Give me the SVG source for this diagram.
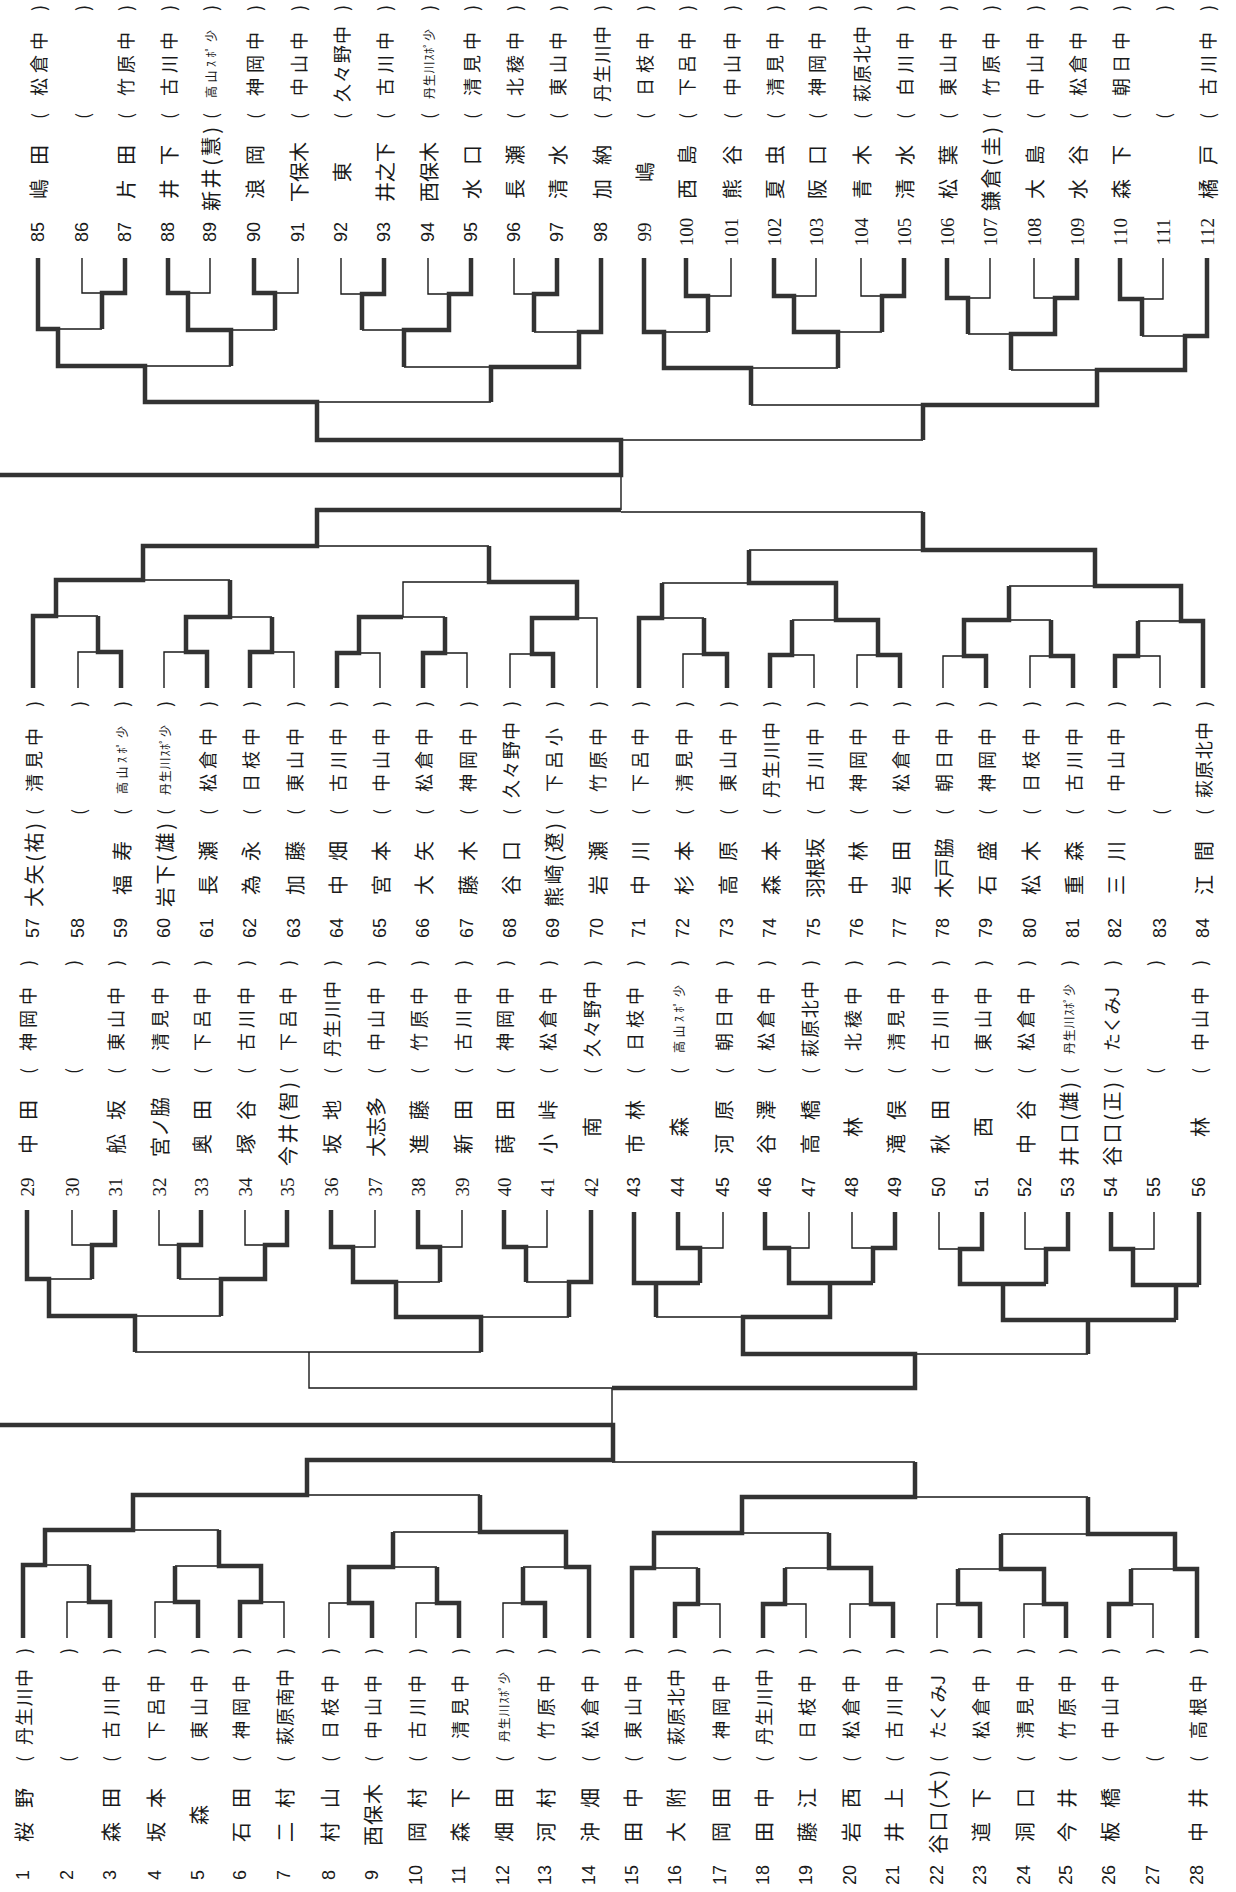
<svg xmlns="http://www.w3.org/2000/svg" width="1236" height="1892" viewBox="0 0 1236 1892">
<style>
text{dominant-baseline:central;text-anchor:middle;fill:#1a1a1a}
.n{font-family:"Liberation Sans",Arial,sans-serif;font-size:18px}
.m{font-family:"Liberation Serif","Times New Roman",serif;font-size:19px}
.j{font-family:"Noto Sans CJK JP","Noto Sans CJK SC",sans-serif;font-size:20px}
.s{font-family:"Noto Sans CJK JP","Noto Sans CJK SC",sans-serif;font-size:18px}
.ss{font-family:"Noto Sans CJK JP","Noto Sans CJK SC",sans-serif;font-size:12px}
.p{font-family:"Noto Sans CJK JP","Noto Sans CJK SC",sans-serif;font-size:18px}
.thin{fill:none;stroke:#1a1a1a;stroke-width:1.4}
.thick{fill:none;stroke:#333;stroke-width:4.5;stroke-linejoin:miter}
</style>
<rect width="1236" height="1892" fill="#fff"/>
<g id="connectors">
<path class="thin" d="M82,258V293H102M210,258V293H188M298,258V293H275M341,258V294H362M428,258V294H449M514,258V294H534M58,329H102M231,330H275M145,366H231M362,330H404M534,332H579M404,367H491M317,402H491M731,258V296H708M816,258V296H794M861,258V296H882M990,258V298H968M1034,258V298H1055M1163,258V299H1142M664,332H708M838,332H882M751,368H838M968,334H1011M1142,336H1185M1011,370H1097M751,405H923M923,440H621M621,510V475"/>
<path class="thick" d="M38,258V329H58V366H145V402H317V440H621V475H0M125,258V293H102V329M168,258V293H188V330H231V366M254,258V293H275V330M384,258V294H362V330M471,258V294H449V330H404V367M557,258V294H534V332M601,258V332H579V367H491V402M644,258V332H664V368H751V405M686,258V296H708V332M774,258V296H794V332H838V368M904,258V296H882V332M947,258V298H968V334M1077,258V298H1055V334H1011V370M1120,258V299H1142V336M1207,258V336H1185V370H1097V405H923V440"/>
<path class="thin" d="M78,688V652H98M164,688V652H186M294,688V652H272M380,688V653H359M467,688V653H445M510,688V654H532M98,616H56M272,617H230M230,580H143M445,617H403M403,617V582H489M597,688V618H577M317,546H489M683,688V654H704M814,688V655H792M857,688V655H878M943,688V656H964M1030,688V656H1051M1160,688V656H1138M704,618H662M792,620H836M662,583H749M1051,620H1009M1138,621H1181M1009,586H1095M749,550H923M923,512H621"/>
<path class="thick" d="M33,688V616H56V580H143V546H317V510H621M121,688V652H98V616M207,688V652H186V617H230V580M250,688V652H272V617M337,688V653H359V617H403M423,688V653H445V617M553,688V654H532V618H577V582H489V546M639,688V618H662V583M727,688V654H704V618M770,688V655H792V620M900,688V655H878V620H836V583H749V550M986,688V656H964V620H1009V586M1073,688V656H1051V620M1115,688V656H1138V621M1203,688V621H1181V586H1095V550H923V512"/>
<path class="thin" d="M72,1210V1245H92M159,1210V1245H179M245,1210V1245H265M375,1210V1247H353M462,1210V1247H440M547,1210V1247H526M92,1279H49M179,1279H221M221,1316H135M440,1282H396M526,1282H569M569,1317H481M135,1352H481M309,1352V1388H612M723,1212V1248H700M809,1212V1248H789M852,1212V1248H873M939,1212V1249H960M1025,1212V1249H1046M1154,1212V1249H1133M656,1317H743M915,1354H1088M612,1388V1425"/>
<path class="thick" d="M27,1210V1279H49V1316H135V1352M115,1210V1245H92V1279M201,1210V1245H179V1279M287,1210V1245H265V1279H221V1316M331,1210V1247H353V1282H396V1317H481V1352M418,1210V1247H440V1282M504,1210V1247H526V1282M591,1210V1282H569V1317M634,1212V1283H700M656,1283V1317M678,1212V1248H700V1283M765,1212V1248H789V1283H873M830,1283V1317H743V1354H915V1388H612M895,1212V1248H873V1283M982,1212V1249H960V1284H1046M1003,1284V1320H1176M1068,1212V1249H1046V1284M1111,1212V1249H1133V1285H1199M1199,1212V1285M1176,1285V1320M1088,1320V1354"/>
<path class="thin" d="M67,1638V1602H89M155,1638V1602H175M284,1638V1602H261M329,1638V1603H349M416,1638V1603H437M503,1638V1603H523M89,1565H45M175,1566H219M219,1530H133M437,1567H393M523,1567H566M393,1532H480M480,1495H307M720,1638V1604H698M806,1638V1604H785M850,1638V1604H871M937,1638V1604H958M1024,1638V1604H1044M1153,1638V1604H1131M698,1568H654M785,1568H829M829,1533H742M958,1569H1001M1131,1569H1175M1001,1534H1088M1088,1497H915M915,1462H612"/>
<path class="thick" d="M23,1638V1565H45V1530H133V1495H307V1460H613V1425H0M110,1638V1602H89V1565M198,1638V1602H175V1566M240,1638V1602H261V1566H219V1530M372,1638V1603H349V1567H393V1532M459,1638V1603H437V1567M545,1638V1603H523V1567M589,1638V1567H566V1532H480V1495M632,1638V1568H654V1533H742V1497H915V1462M675,1638V1604H698V1568M763,1638V1604H785V1568M893,1638V1604H871V1568H829V1533M980,1638V1604H958V1569M1066,1638V1604H1044V1569H1001V1534M1109,1638V1604H1131V1569M1197,1638V1569H1175V1534H1088V1497"/>
</g>
<!-- top row 85-112 -->
<g id="e85" transform="translate(38,232) rotate(-90)"><text class="n">85</text><text class="j" x="60" textLength="54">嶋田</text><text class="p" x="116">(</text><text class="s" x="168" textLength="64">松倉中</text><text class="p" x="224">)</text></g>
<g id="e86" transform="translate(82,232) rotate(-90)"><text class="n">86</text><text class="p" x="116">(</text><text class="p" x="224">)</text></g>
<g id="e87" transform="translate(125,232) rotate(-90)"><text class="n">87</text><text class="j" x="60" textLength="54">片田</text><text class="p" x="116">(</text><text class="s" x="168" textLength="64">竹原中</text><text class="p" x="224">)</text></g>
<g id="e88" transform="translate(168,232) rotate(-90)"><text class="n">88</text><text class="j" x="60" textLength="54">井下</text><text class="p" x="116">(</text><text class="s" x="168" textLength="64">古川中</text><text class="p" x="224">)</text></g>
<g id="e89" transform="translate(210,232) rotate(-90)"><text class="n">89</text><text class="j" x="63" textLength="84">新井(慧)</text><text class="p" x="116">(</text><text class="ss" x="168" textLength="68">高山ｽﾎﾟ少</text><text class="p" x="224">)</text></g>
<g id="e90" transform="translate(254,232) rotate(-90)"><text class="n">90</text><text class="j" x="60" textLength="54">浪岡</text><text class="p" x="116">(</text><text class="s" x="168" textLength="64">神岡中</text><text class="p" x="224">)</text></g>
<g id="e91" transform="translate(298,232) rotate(-90)"><text class="n">91</text><text class="j" x="60" textLength="60">下保木</text><text class="p" x="116">(</text><text class="s" x="168" textLength="64">中山中</text><text class="p" x="224">)</text></g>
<g id="e92" transform="translate(341,232) rotate(-90)"><text class="n">92</text><text class="j" x="60">東</text><text class="p" x="116">(</text><text class="s" x="168" textLength="76">久々野中</text><text class="p" x="224">)</text></g>
<g id="e93" transform="translate(384,232) rotate(-90)"><text class="n">93</text><text class="j" x="60" textLength="60">井之下</text><text class="p" x="116">(</text><text class="s" x="168" textLength="64">古川中</text><text class="p" x="224">)</text></g>
<g id="e94" transform="translate(428,232) rotate(-90)"><text class="n">94</text><text class="j" x="60" textLength="60">西保木</text><text class="p" x="116">(</text><text class="ss" x="168" textLength="70">丹生川ｽﾎﾟ少</text><text class="p" x="224">)</text></g>
<g id="e95" transform="translate(471,232) rotate(-90)"><text class="n">95</text><text class="j" x="60" textLength="54">水口</text><text class="p" x="116">(</text><text class="s" x="168" textLength="64">清見中</text><text class="p" x="224">)</text></g>
<g id="e96" transform="translate(514,232) rotate(-90)"><text class="n">96</text><text class="j" x="60" textLength="54">長瀬</text><text class="p" x="116">(</text><text class="s" x="168" textLength="64">北稜中</text><text class="p" x="224">)</text></g>
<g id="e97" transform="translate(557,232) rotate(-90)"><text class="n">97</text><text class="j" x="60" textLength="54">清水</text><text class="p" x="116">(</text><text class="s" x="168" textLength="64">東山中</text><text class="p" x="224">)</text></g>
<g id="e98" transform="translate(601,232) rotate(-90)"><text class="n">98</text><text class="j" x="60" textLength="54">加納</text><text class="p" x="116">(</text><text class="s" x="168" textLength="76">丹生川中</text><text class="p" x="224">)</text></g>
<g id="e99" transform="translate(644,232) rotate(-90)"><text class="m">99</text><text class="j" x="60">嶋</text><text class="p" x="116">(</text><text class="s" x="168" textLength="64">日枝中</text><text class="p" x="224">)</text></g>
<g id="e100" transform="translate(686,232) rotate(-90)"><text class="m">100</text><text class="j" x="60" textLength="54">西島</text><text class="p" x="116">(</text><text class="s" x="168" textLength="64">下呂中</text><text class="p" x="224">)</text></g>
<g id="e101" transform="translate(731,232) rotate(-90)"><text class="m">101</text><text class="j" x="60" textLength="54">熊谷</text><text class="p" x="116">(</text><text class="s" x="168" textLength="64">中山中</text><text class="p" x="224">)</text></g>
<g id="e102" transform="translate(774,232) rotate(-90)"><text class="m">102</text><text class="j" x="60" textLength="54">夏虫</text><text class="p" x="116">(</text><text class="s" x="168" textLength="64">清見中</text><text class="p" x="224">)</text></g>
<g id="e103" transform="translate(816,232) rotate(-90)"><text class="m">103</text><text class="j" x="60" textLength="54">阪口</text><text class="p" x="116">(</text><text class="s" x="168" textLength="64">神岡中</text><text class="p" x="224">)</text></g>
<g id="e104" transform="translate(861,232) rotate(-90)"><text class="m">104</text><text class="j" x="60" textLength="54">青木</text><text class="p" x="116">(</text><text class="s" x="168" textLength="76">萩原北中</text><text class="p" x="224">)</text></g>
<g id="e105" transform="translate(904,232) rotate(-90)"><text class="m">105</text><text class="j" x="60" textLength="54">清水</text><text class="p" x="116">(</text><text class="s" x="168" textLength="64">白川中</text><text class="p" x="224">)</text></g>
<g id="e106" transform="translate(947,232) rotate(-90)"><text class="m">106</text><text class="j" x="60" textLength="54">松葉</text><text class="p" x="116">(</text><text class="s" x="168" textLength="64">東山中</text><text class="p" x="224">)</text></g>
<g id="e107" transform="translate(990,232) rotate(-90)"><text class="m">107</text><text class="j" x="63" textLength="84">鎌倉(圭)</text><text class="p" x="116">(</text><text class="s" x="168" textLength="64">竹原中</text><text class="p" x="224">)</text></g>
<g id="e108" transform="translate(1034,232) rotate(-90)"><text class="m">108</text><text class="j" x="60" textLength="54">大島</text><text class="p" x="116">(</text><text class="s" x="168" textLength="64">中山中</text><text class="p" x="224">)</text></g>
<g id="e109" transform="translate(1077,232) rotate(-90)"><text class="m">109</text><text class="j" x="60" textLength="54">水谷</text><text class="p" x="116">(</text><text class="s" x="168" textLength="64">松倉中</text><text class="p" x="224">)</text></g>
<g id="e110" transform="translate(1120,232) rotate(-90)"><text class="m">110</text><text class="j" x="60" textLength="54">森下</text><text class="p" x="116">(</text><text class="s" x="168" textLength="64">朝日中</text><text class="p" x="224">)</text></g>
<g id="e111" transform="translate(1163,232) rotate(-90)"><text class="m">111</text><text class="p" x="116">(</text><text class="p" x="224">)</text></g>
<g id="e112" transform="translate(1207,232) rotate(-90)"><text class="m">112</text><text class="j" x="60" textLength="54">橘戸</text><text class="p" x="116">(</text><text class="s" x="168" textLength="64">古川中</text><text class="p" x="224">)</text></g>
<!-- middle upper 57-84 -->
<g id="e57" transform="translate(33,928) rotate(-90)"><text class="n">57</text><text class="j" x="63" textLength="84">大矢(祐)</text><text class="p" x="116">(</text><text class="s" x="168" textLength="64">清見中</text><text class="p" x="224">)</text></g>
<g id="e58" transform="translate(78,928) rotate(-90)"><text class="n">58</text><text class="p" x="116">(</text><text class="p" x="224">)</text></g>
<g id="e59" transform="translate(121,928) rotate(-90)"><text class="n">59</text><text class="j" x="60" textLength="54">福寿</text><text class="p" x="116">(</text><text class="ss" x="168" textLength="68">高山ｽﾎﾟ少</text><text class="p" x="224">)</text></g>
<g id="e60" transform="translate(164,928) rotate(-90)"><text class="n">60</text><text class="j" x="63" textLength="84">岩下(雄)</text><text class="p" x="116">(</text><text class="ss" x="168" textLength="70">丹生川ｽﾎﾟ少</text><text class="p" x="224">)</text></g>
<g id="e61" transform="translate(207,928) rotate(-90)"><text class="n">61</text><text class="j" x="60" textLength="54">長瀬</text><text class="p" x="116">(</text><text class="s" x="168" textLength="64">松倉中</text><text class="p" x="224">)</text></g>
<g id="e62" transform="translate(250,928) rotate(-90)"><text class="n">62</text><text class="j" x="60" textLength="54">為永</text><text class="p" x="116">(</text><text class="s" x="168" textLength="64">日枝中</text><text class="p" x="224">)</text></g>
<g id="e63" transform="translate(294,928) rotate(-90)"><text class="n">63</text><text class="j" x="60" textLength="54">加藤</text><text class="p" x="116">(</text><text class="s" x="168" textLength="64">東山中</text><text class="p" x="224">)</text></g>
<g id="e64" transform="translate(337,928) rotate(-90)"><text class="n">64</text><text class="j" x="60" textLength="54">中畑</text><text class="p" x="116">(</text><text class="s" x="168" textLength="64">古川中</text><text class="p" x="224">)</text></g>
<g id="e65" transform="translate(380,928) rotate(-90)"><text class="n">65</text><text class="j" x="60" textLength="54">宮本</text><text class="p" x="116">(</text><text class="s" x="168" textLength="64">中山中</text><text class="p" x="224">)</text></g>
<g id="e66" transform="translate(423,928) rotate(-90)"><text class="n">66</text><text class="j" x="60" textLength="54">大矢</text><text class="p" x="116">(</text><text class="s" x="168" textLength="64">松倉中</text><text class="p" x="224">)</text></g>
<g id="e67" transform="translate(467,928) rotate(-90)"><text class="n">67</text><text class="j" x="60" textLength="54">藤木</text><text class="p" x="116">(</text><text class="s" x="168" textLength="64">神岡中</text><text class="p" x="224">)</text></g>
<g id="e68" transform="translate(510,928) rotate(-90)"><text class="n">68</text><text class="j" x="60" textLength="54">谷口</text><text class="p" x="116">(</text><text class="s" x="168" textLength="76">久々野中</text><text class="p" x="224">)</text></g>
<g id="e69" transform="translate(553,928) rotate(-90)"><text class="n">69</text><text class="j" x="63" textLength="84">熊崎(遼)</text><text class="p" x="116">(</text><text class="s" x="168" textLength="64">下呂小</text><text class="p" x="224">)</text></g>
<g id="e70" transform="translate(597,928) rotate(-90)"><text class="n">70</text><text class="j" x="60" textLength="54">岩瀬</text><text class="p" x="116">(</text><text class="s" x="168" textLength="64">竹原中</text><text class="p" x="224">)</text></g>
<g id="e71" transform="translate(639,928) rotate(-90)"><text class="n">71</text><text class="j" x="60" textLength="54">中川</text><text class="p" x="116">(</text><text class="s" x="168" textLength="64">下呂中</text><text class="p" x="224">)</text></g>
<g id="e72" transform="translate(683,928) rotate(-90)"><text class="n">72</text><text class="j" x="60" textLength="54">杉本</text><text class="p" x="116">(</text><text class="s" x="168" textLength="64">清見中</text><text class="p" x="224">)</text></g>
<g id="e73" transform="translate(727,928) rotate(-90)"><text class="n">73</text><text class="j" x="60" textLength="54">高原</text><text class="p" x="116">(</text><text class="s" x="168" textLength="64">東山中</text><text class="p" x="224">)</text></g>
<g id="e74" transform="translate(770,928) rotate(-90)"><text class="n">74</text><text class="j" x="60" textLength="54">森本</text><text class="p" x="116">(</text><text class="s" x="168" textLength="76">丹生川中</text><text class="p" x="224">)</text></g>
<g id="e75" transform="translate(814,928) rotate(-90)"><text class="n">75</text><text class="j" x="60" textLength="60">羽根坂</text><text class="p" x="116">(</text><text class="s" x="168" textLength="64">古川中</text><text class="p" x="224">)</text></g>
<g id="e76" transform="translate(857,928) rotate(-90)"><text class="n">76</text><text class="j" x="60" textLength="54">中林</text><text class="p" x="116">(</text><text class="s" x="168" textLength="64">神岡中</text><text class="p" x="224">)</text></g>
<g id="e77" transform="translate(900,928) rotate(-90)"><text class="n">77</text><text class="j" x="60" textLength="54">岩田</text><text class="p" x="116">(</text><text class="s" x="168" textLength="64">松倉中</text><text class="p" x="224">)</text></g>
<g id="e78" transform="translate(943,928) rotate(-90)"><text class="n">78</text><text class="j" x="60" textLength="60">木戸脇</text><text class="p" x="116">(</text><text class="s" x="168" textLength="64">朝日中</text><text class="p" x="224">)</text></g>
<g id="e79" transform="translate(986,928) rotate(-90)"><text class="n">79</text><text class="j" x="60" textLength="54">石盛</text><text class="p" x="116">(</text><text class="s" x="168" textLength="64">神岡中</text><text class="p" x="224">)</text></g>
<g id="e80" transform="translate(1030,928) rotate(-90)"><text class="n">80</text><text class="j" x="60" textLength="54">松木</text><text class="p" x="116">(</text><text class="s" x="168" textLength="64">日枝中</text><text class="p" x="224">)</text></g>
<g id="e81" transform="translate(1073,928) rotate(-90)"><text class="n">81</text><text class="j" x="60" textLength="54">重森</text><text class="p" x="116">(</text><text class="s" x="168" textLength="64">古川中</text><text class="p" x="224">)</text></g>
<g id="e82" transform="translate(1115,928) rotate(-90)"><text class="n">82</text><text class="j" x="60" textLength="54">三川</text><text class="p" x="116">(</text><text class="s" x="168" textLength="64">中山中</text><text class="p" x="224">)</text></g>
<g id="e83" transform="translate(1160,928) rotate(-90)"><text class="n">83</text><text class="p" x="116">(</text><text class="p" x="224">)</text></g>
<g id="e84" transform="translate(1203,928) rotate(-90)"><text class="n">84</text><text class="j" x="60" textLength="54">江間</text><text class="p" x="116">(</text><text class="s" x="168" textLength="76">萩原北中</text><text class="p" x="224">)</text></g>
<!-- middle lower 29-56 -->
<g id="e29" transform="translate(27,1187) rotate(-90)"><text class="m">29</text><text class="j" x="60" textLength="54">中田</text><text class="p" x="116">(</text><text class="s" x="168" textLength="64">神岡中</text><text class="p" x="224">)</text></g>
<g id="e30" transform="translate(72,1187) rotate(-90)"><text class="m">30</text><text class="p" x="116">(</text><text class="p" x="224">)</text></g>
<g id="e31" transform="translate(115,1187) rotate(-90)"><text class="m">31</text><text class="j" x="60" textLength="54">舩坂</text><text class="p" x="116">(</text><text class="s" x="168" textLength="64">東山中</text><text class="p" x="224">)</text></g>
<g id="e32" transform="translate(159,1187) rotate(-90)"><text class="m">32</text><text class="j" x="60" textLength="60">宮ノ脇</text><text class="p" x="116">(</text><text class="s" x="168" textLength="64">清見中</text><text class="p" x="224">)</text></g>
<g id="e33" transform="translate(201,1187) rotate(-90)"><text class="m">33</text><text class="j" x="60" textLength="54">奥田</text><text class="p" x="116">(</text><text class="s" x="168" textLength="64">下呂中</text><text class="p" x="224">)</text></g>
<g id="e34" transform="translate(245,1187) rotate(-90)"><text class="m">34</text><text class="j" x="60" textLength="54">塚谷</text><text class="p" x="116">(</text><text class="s" x="168" textLength="64">古川中</text><text class="p" x="224">)</text></g>
<g id="e35" transform="translate(287,1187) rotate(-90)"><text class="m">35</text><text class="j" x="63" textLength="84">今井(智)</text><text class="p" x="116">(</text><text class="s" x="168" textLength="64">下呂中</text><text class="p" x="224">)</text></g>
<g id="e36" transform="translate(331,1187) rotate(-90)"><text class="m">36</text><text class="j" x="60" textLength="54">坂地</text><text class="p" x="116">(</text><text class="s" x="168" textLength="76">丹生川中</text><text class="p" x="224">)</text></g>
<g id="e37" transform="translate(375,1187) rotate(-90)"><text class="m">37</text><text class="j" x="60" textLength="60">大志多</text><text class="p" x="116">(</text><text class="s" x="168" textLength="64">中山中</text><text class="p" x="224">)</text></g>
<g id="e38" transform="translate(418,1187) rotate(-90)"><text class="m">38</text><text class="j" x="60" textLength="54">進藤</text><text class="p" x="116">(</text><text class="s" x="168" textLength="64">竹原中</text><text class="p" x="224">)</text></g>
<g id="e39" transform="translate(462,1187) rotate(-90)"><text class="m">39</text><text class="j" x="60" textLength="54">新田</text><text class="p" x="116">(</text><text class="s" x="168" textLength="64">古川中</text><text class="p" x="224">)</text></g>
<g id="e40" transform="translate(504,1187) rotate(-90)"><text class="m">40</text><text class="j" x="60" textLength="54">蒔田</text><text class="p" x="116">(</text><text class="s" x="168" textLength="64">神岡中</text><text class="p" x="224">)</text></g>
<g id="e41" transform="translate(547,1187) rotate(-90)"><text class="m">41</text><text class="j" x="60" textLength="54">小峠</text><text class="p" x="116">(</text><text class="s" x="168" textLength="64">松倉中</text><text class="p" x="224">)</text></g>
<g id="e42" transform="translate(591,1187) rotate(-90)"><text class="m">42</text><text class="j" x="60">南</text><text class="p" x="116">(</text><text class="s" x="168" textLength="76">久々野中</text><text class="p" x="224">)</text></g>
<g id="e43" transform="translate(634,1187) rotate(-90)"><text class="n">43</text><text class="j" x="60" textLength="54">市林</text><text class="p" x="116">(</text><text class="s" x="168" textLength="64">日枝中</text><text class="p" x="224">)</text></g>
<g id="e44" transform="translate(678,1187) rotate(-90)"><text class="n">44</text><text class="j" x="60">森</text><text class="p" x="116">(</text><text class="ss" x="168" textLength="68">高山ｽﾎﾟ少</text><text class="p" x="224">)</text></g>
<g id="e45" transform="translate(723,1187) rotate(-90)"><text class="n">45</text><text class="j" x="60" textLength="54">河原</text><text class="p" x="116">(</text><text class="s" x="168" textLength="64">朝日中</text><text class="p" x="224">)</text></g>
<g id="e46" transform="translate(765,1187) rotate(-90)"><text class="n">46</text><text class="j" x="60" textLength="54">谷澤</text><text class="p" x="116">(</text><text class="s" x="168" textLength="64">松倉中</text><text class="p" x="224">)</text></g>
<g id="e47" transform="translate(809,1187) rotate(-90)"><text class="n">47</text><text class="j" x="60" textLength="54">高橋</text><text class="p" x="116">(</text><text class="s" x="168" textLength="76">萩原北中</text><text class="p" x="224">)</text></g>
<g id="e48" transform="translate(852,1187) rotate(-90)"><text class="n">48</text><text class="j" x="60">林</text><text class="p" x="116">(</text><text class="s" x="168" textLength="64">北稜中</text><text class="p" x="224">)</text></g>
<g id="e49" transform="translate(895,1187) rotate(-90)"><text class="n">49</text><text class="j" x="60" textLength="54">滝俣</text><text class="p" x="116">(</text><text class="s" x="168" textLength="64">清見中</text><text class="p" x="224">)</text></g>
<g id="e50" transform="translate(939,1187) rotate(-90)"><text class="n">50</text><text class="j" x="60" textLength="54">秋田</text><text class="p" x="116">(</text><text class="s" x="168" textLength="64">古川中</text><text class="p" x="224">)</text></g>
<g id="e51" transform="translate(982,1187) rotate(-90)"><text class="n">51</text><text class="j" x="60">西</text><text class="p" x="116">(</text><text class="s" x="168" textLength="64">東山中</text><text class="p" x="224">)</text></g>
<g id="e52" transform="translate(1025,1187) rotate(-90)"><text class="n">52</text><text class="j" x="60" textLength="54">中谷</text><text class="p" x="116">(</text><text class="s" x="168" textLength="64">松倉中</text><text class="p" x="224">)</text></g>
<g id="e53" transform="translate(1068,1187) rotate(-90)"><text class="n">53</text><text class="j" x="63" textLength="84">井口(雄)</text><text class="p" x="116">(</text><text class="ss" x="168" textLength="70">丹生川ｽﾎﾟ少</text><text class="p" x="224">)</text></g>
<g id="e54" transform="translate(1111,1187) rotate(-90)"><text class="n">54</text><text class="j" x="63" textLength="84">谷口(正)</text><text class="p" x="116">(</text><text class="s" x="168" textLength="64">たくみJ</text><text class="p" x="224">)</text></g>
<g id="e55" transform="translate(1154,1187) rotate(-90)"><text class="n">55</text><text class="p" x="116">(</text><text class="p" x="224">)</text></g>
<g id="e56" transform="translate(1199,1187) rotate(-90)"><text class="n">56</text><text class="j" x="60">林</text><text class="p" x="116">(</text><text class="s" x="168" textLength="64">中山中</text><text class="p" x="224">)</text></g>
<!-- bottom 1-28 -->
<g id="e1" transform="translate(23,1875) rotate(-90)"><text class="n">1</text><text class="j" x="60" textLength="54">桜野</text><text class="p" x="116">(</text><text class="s" x="168" textLength="76">丹生川中</text><text class="p" x="224">)</text></g>
<g id="e2" transform="translate(67,1875) rotate(-90)"><text class="n">2</text><text class="p" x="116">(</text><text class="p" x="224">)</text></g>
<g id="e3" transform="translate(110,1875) rotate(-90)"><text class="n">3</text><text class="j" x="60" textLength="54">森田</text><text class="p" x="116">(</text><text class="s" x="168" textLength="64">古川中</text><text class="p" x="224">)</text></g>
<g id="e4" transform="translate(155,1875) rotate(-90)"><text class="n">4</text><text class="j" x="60" textLength="54">坂本</text><text class="p" x="116">(</text><text class="s" x="168" textLength="64">下呂中</text><text class="p" x="224">)</text></g>
<g id="e5" transform="translate(198,1875) rotate(-90)"><text class="n">5</text><text class="j" x="60">森</text><text class="p" x="116">(</text><text class="s" x="168" textLength="64">東山中</text><text class="p" x="224">)</text></g>
<g id="e6" transform="translate(240,1875) rotate(-90)"><text class="n">6</text><text class="j" x="60" textLength="54">石田</text><text class="p" x="116">(</text><text class="s" x="168" textLength="64">神岡中</text><text class="p" x="224">)</text></g>
<g id="e7" transform="translate(284,1875) rotate(-90)"><text class="n">7</text><text class="j" x="60" textLength="54">二村</text><text class="p" x="116">(</text><text class="s" x="168" textLength="76">萩原南中</text><text class="p" x="224">)</text></g>
<g id="e8" transform="translate(329,1875) rotate(-90)"><text class="n">8</text><text class="j" x="60" textLength="54">村山</text><text class="p" x="116">(</text><text class="s" x="168" textLength="64">日枝中</text><text class="p" x="224">)</text></g>
<g id="e9" transform="translate(372,1875) rotate(-90)"><text class="n">9</text><text class="j" x="60" textLength="62">西保木</text><text class="p" x="116">(</text><text class="s" x="168" textLength="64">中山中</text><text class="p" x="224">)</text></g>
<g id="e10" transform="translate(416,1875) rotate(-90)"><text class="n">10</text><text class="j" x="60" textLength="54">岡村</text><text class="p" x="116">(</text><text class="s" x="168" textLength="64">古川中</text><text class="p" x="224">)</text></g>
<g id="e11" transform="translate(459,1875) rotate(-90)"><text class="n">11</text><text class="j" x="60" textLength="54">森下</text><text class="p" x="116">(</text><text class="s" x="168" textLength="64">清見中</text><text class="p" x="224">)</text></g>
<g id="e12" transform="translate(503,1875) rotate(-90)"><text class="n">12</text><text class="j" x="60" textLength="54">畑田</text><text class="p" x="116">(</text><text class="ss" x="168" textLength="70">丹生川ｽﾎﾟ少</text><text class="p" x="224">)</text></g>
<g id="e13" transform="translate(545,1875) rotate(-90)"><text class="n">13</text><text class="j" x="60" textLength="54">河村</text><text class="p" x="116">(</text><text class="s" x="168" textLength="64">竹原中</text><text class="p" x="224">)</text></g>
<g id="e14" transform="translate(589,1875) rotate(-90)"><text class="n">14</text><text class="j" x="60" textLength="54">沖畑</text><text class="p" x="116">(</text><text class="s" x="168" textLength="64">松倉中</text><text class="p" x="224">)</text></g>
<g id="e15" transform="translate(632,1875) rotate(-90)"><text class="n">15</text><text class="j" x="60" textLength="54">田中</text><text class="p" x="116">(</text><text class="s" x="168" textLength="64">東山中</text><text class="p" x="224">)</text></g>
<g id="e16" transform="translate(675,1875) rotate(-90)"><text class="n">16</text><text class="j" x="60" textLength="54">大附</text><text class="p" x="116">(</text><text class="s" x="168" textLength="76">萩原北中</text><text class="p" x="224">)</text></g>
<g id="e17" transform="translate(720,1875) rotate(-90)"><text class="n">17</text><text class="j" x="60" textLength="54">岡田</text><text class="p" x="116">(</text><text class="s" x="168" textLength="64">神岡中</text><text class="p" x="224">)</text></g>
<g id="e18" transform="translate(763,1875) rotate(-90)"><text class="n">18</text><text class="j" x="60" textLength="54">田中</text><text class="p" x="116">(</text><text class="s" x="168" textLength="76">丹生川中</text><text class="p" x="224">)</text></g>
<g id="e19" transform="translate(806,1875) rotate(-90)"><text class="n">19</text><text class="j" x="60" textLength="54">藤江</text><text class="p" x="116">(</text><text class="s" x="168" textLength="64">日枝中</text><text class="p" x="224">)</text></g>
<g id="e20" transform="translate(850,1875) rotate(-90)"><text class="n">20</text><text class="j" x="60" textLength="54">岩西</text><text class="p" x="116">(</text><text class="s" x="168" textLength="64">松倉中</text><text class="p" x="224">)</text></g>
<g id="e21" transform="translate(893,1875) rotate(-90)"><text class="n">21</text><text class="j" x="60" textLength="54">井上</text><text class="p" x="116">(</text><text class="s" x="168" textLength="64">古川中</text><text class="p" x="224">)</text></g>
<g id="e22" transform="translate(937,1875) rotate(-90)"><text class="n">22</text><text class="j" x="63" textLength="84">谷口(大)</text><text class="p" x="116">(</text><text class="s" x="168" textLength="64">たくみJ</text><text class="p" x="224">)</text></g>
<g id="e23" transform="translate(980,1875) rotate(-90)"><text class="n">23</text><text class="j" x="60" textLength="54">道下</text><text class="p" x="116">(</text><text class="s" x="168" textLength="64">松倉中</text><text class="p" x="224">)</text></g>
<g id="e24" transform="translate(1024,1875) rotate(-90)"><text class="n">24</text><text class="j" x="60" textLength="54">洞口</text><text class="p" x="116">(</text><text class="s" x="168" textLength="64">清見中</text><text class="p" x="224">)</text></g>
<g id="e25" transform="translate(1066,1875) rotate(-90)"><text class="n">25</text><text class="j" x="60" textLength="54">今井</text><text class="p" x="116">(</text><text class="s" x="168" textLength="64">竹原中</text><text class="p" x="224">)</text></g>
<g id="e26" transform="translate(1109,1875) rotate(-90)"><text class="n">26</text><text class="j" x="60" textLength="54">板橋</text><text class="p" x="116">(</text><text class="s" x="168" textLength="64">中山中</text><text class="p" x="224">)</text></g>
<g id="e27" transform="translate(1153,1875) rotate(-90)"><text class="n">27</text><text class="p" x="116">(</text><text class="p" x="224">)</text></g>
<g id="e28" transform="translate(1197,1875) rotate(-90)"><text class="n">28</text><text class="j" x="60" textLength="54">中井</text><text class="p" x="116">(</text><text class="s" x="168" textLength="64">高根中</text><text class="p" x="224">)</text></g>
</svg>
